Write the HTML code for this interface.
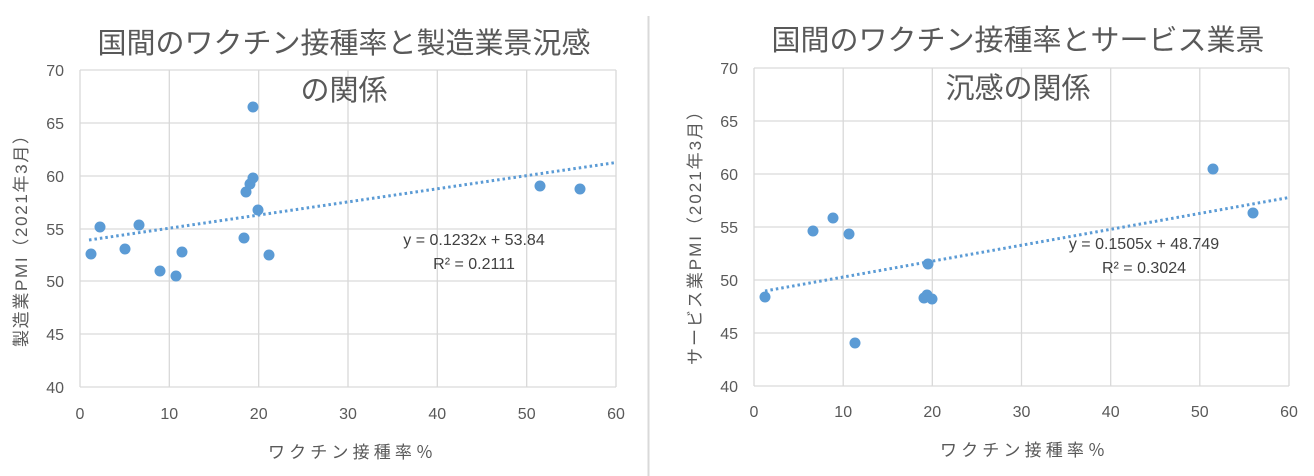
<!DOCTYPE html>
<html><head><meta charset="utf-8"><style>
html,body{margin:0;padding:0;background:#fff;}
svg{display:block;font-family:"Liberation Sans","Noto Sans CJK JP",sans-serif;}
</style></head><body>
<svg width="1314" height="476" viewBox="0 0 1314 476" xmlns="http://www.w3.org/2000/svg">
<rect width="1314" height="476" fill="#fff"/>
<line x1="648.5" y1="16" x2="648.5" y2="476" stroke="#d9d9d9" stroke-width="2"/>
<!-- LEFT -->
<g stroke="#d9d9d9" stroke-width="1.3">
<line x1="80" y1="70" x2="616" y2="70"/><line x1="80" y1="123" x2="616" y2="123"/><line x1="80" y1="176" x2="616" y2="176"/><line x1="80" y1="229" x2="616" y2="229"/><line x1="80" y1="281" x2="616" y2="281"/><line x1="80" y1="334" x2="616" y2="334"/>
<line x1="169.3" y1="70" x2="169.3" y2="387"/><line x1="258.7" y1="70" x2="258.7" y2="387"/><line x1="348" y1="70" x2="348" y2="387"/><line x1="437.3" y1="70" x2="437.3" y2="387"/><line x1="526.7" y1="70" x2="526.7" y2="387"/><line x1="616" y1="70" x2="616" y2="387"/>
<line x1="80" y1="70" x2="80" y2="387"/><line x1="80" y1="387" x2="616" y2="387"/>
</g>
<g fill="#595959" font-size="16" text-anchor="end">
<text x="64" y="76">70</text><text x="64" y="129">65</text><text x="64" y="182">60</text><text x="64" y="235">55</text><text x="64" y="287">50</text><text x="64" y="340">45</text><text x="64" y="393">40</text>
</g>
<g fill="#595959" font-size="16" text-anchor="middle">
<text x="80" y="419">0</text><text x="169.3" y="419">10</text><text x="258.7" y="419">20</text><text x="348" y="419">30</text><text x="437.3" y="419">40</text><text x="526.7" y="419">50</text><text x="616" y="419">60</text>
</g>
<text x="268" y="458" fill="#595959" font-size="17" textLength="165" lengthAdjust="spacing">ワクチン接種率％</text>
<text transform="translate(27,347) rotate(-90)" fill="#595959" font-size="17" textLength="220" lengthAdjust="spacing">製造業PMI（2021年3月）</text>
<text x="344" y="53" fill="#595959" font-size="29" text-anchor="middle">国間のワクチン接種率と製造業景況感</text>
<text x="344" y="100" fill="#595959" font-size="29" text-anchor="middle">の関係</text>
<line x1="89" y1="240" x2="616" y2="162.5" stroke="#5b9bd5" stroke-width="3" stroke-dasharray="2.5 3"/>
<g fill="#5b9bd5">
<circle cx="91" cy="254" r="5.5"/><circle cx="100" cy="227" r="5.5"/><circle cx="125" cy="249" r="5.5"/><circle cx="139" cy="225" r="5.5"/><circle cx="160" cy="271" r="5.5"/><circle cx="176" cy="276" r="5.5"/><circle cx="182" cy="252" r="5.5"/><circle cx="244" cy="238" r="5.5"/><circle cx="246" cy="192" r="5.5"/><circle cx="250" cy="184" r="5.5"/><circle cx="253" cy="107" r="5.5"/><circle cx="253" cy="178" r="5.5"/><circle cx="258" cy="210" r="5.5"/><circle cx="269" cy="255" r="5.5"/><circle cx="540" cy="186" r="5.5"/><circle cx="580" cy="189" r="5.5"/>
</g>
<text x="474" y="245" fill="#404040" font-size="16" text-anchor="middle">y = 0.1232x + 53.84</text>
<text x="474" y="269" fill="#404040" font-size="16" text-anchor="middle">R² = 0.2111</text>
<!-- RIGHT -->
<g stroke="#d9d9d9" stroke-width="1.3">
<line x1="754" y1="68" x2="1289" y2="68"/><line x1="754" y1="121" x2="1289" y2="121"/><line x1="754" y1="174" x2="1289" y2="174"/><line x1="754" y1="227" x2="1289" y2="227"/><line x1="754" y1="280" x2="1289" y2="280"/><line x1="754" y1="333" x2="1289" y2="333"/>
<line x1="843.2" y1="68" x2="843.2" y2="386"/><line x1="932.3" y1="68" x2="932.3" y2="386"/><line x1="1021.5" y1="68" x2="1021.5" y2="386"/><line x1="1110.7" y1="68" x2="1110.7" y2="386"/><line x1="1199.8" y1="68" x2="1199.8" y2="386"/><line x1="1289" y1="68" x2="1289" y2="386"/>
<line x1="754" y1="68" x2="754" y2="386"/><line x1="754" y1="386" x2="1289" y2="386"/>
</g>
<g fill="#595959" font-size="16" text-anchor="end">
<text x="738" y="74">70</text><text x="738" y="127">65</text><text x="738" y="180">60</text><text x="738" y="233">55</text><text x="738" y="286">50</text><text x="738" y="339">45</text><text x="738" y="392">40</text>
</g>
<g fill="#595959" font-size="16" text-anchor="middle">
<text x="754" y="417">0</text><text x="843.2" y="417">10</text><text x="932.3" y="417">20</text><text x="1021.5" y="417">30</text><text x="1110.7" y="417">40</text><text x="1199.8" y="417">50</text><text x="1289" y="417">60</text>
</g>
<text x="940" y="456" fill="#595959" font-size="17" textLength="165" lengthAdjust="spacing">ワクチン接種率％</text>
<text transform="translate(701,365) rotate(-90)" fill="#595959" font-size="17" textLength="262" lengthAdjust="spacing">サービス業PMI（2021年3月）</text>
<text x="1018" y="50" fill="#595959" font-size="29" text-anchor="middle">国間のワクチン接種率とサービス業景</text>
<text x="1018" y="98" fill="#595959" font-size="29" text-anchor="middle">沉感の関係</text>
<line x1="765" y1="291" x2="1289" y2="197.5" stroke="#5b9bd5" stroke-width="3" stroke-dasharray="2.5 3"/>
<g fill="#5b9bd5">
<circle cx="765" cy="297" r="5.5"/><circle cx="813" cy="231" r="5.5"/><circle cx="833" cy="218" r="5.5"/><circle cx="849" cy="234" r="5.5"/><circle cx="855" cy="343" r="5.5"/><circle cx="924" cy="298" r="5.5"/><circle cx="927" cy="295" r="5.5"/><circle cx="928" cy="264" r="5.5"/><circle cx="932" cy="299" r="5.5"/><circle cx="1213" cy="169" r="5.5"/><circle cx="1253" cy="213" r="5.5"/>
</g>
<text x="1144" y="249" fill="#404040" font-size="16" text-anchor="middle">y = 0.1505x + 48.749</text>
<text x="1144" y="273" fill="#404040" font-size="16" text-anchor="middle">R² = 0.3024</text>
</svg>
</body></html>
